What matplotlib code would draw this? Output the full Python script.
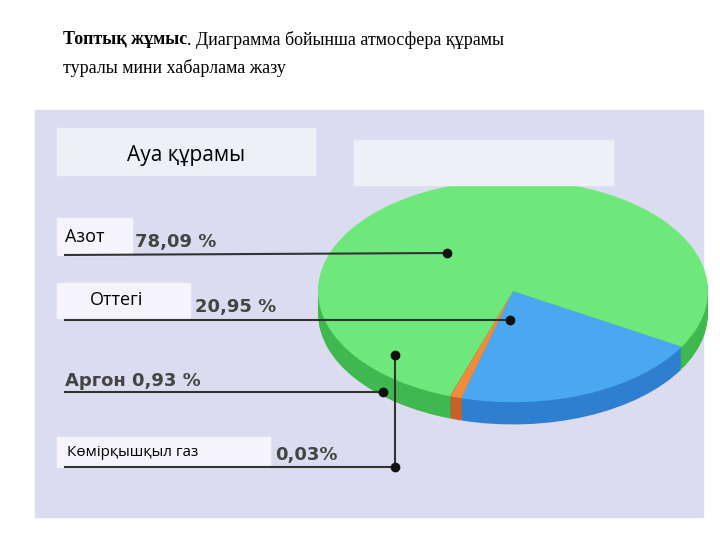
import matplotlib
matplotlib.use("Agg")
import matplotlib.pyplot as plt
from matplotlib.patches import Rectangle

labels = ["Оттегі", "Аргон", "Көмірқышқыл газ", "Азот"]
values = [20.95, 0.93, 0.03, 78.09]
top_colors = ["#4aa8f0", "#f08a3c", "#d84a3a", "#6ee87a"]
side_colors = ["#2f7fd0", "#c8602a", "#a83020", "#3fb84f"]
value_texts = ["78,09 %", "20,95 %", "Аргон 0,93 %", "0,03%"]

fig = plt.figure(figsize=(7.2, 5.4), dpi=100)
fig.patch.set_facecolor("white")
base = fig.add_axes([0, 0, 1, 1])
base.set_xlim(0, 720); base.set_ylim(540, 0); base.axis("off")
base.add_patch(Rectangle((35, 110), 668, 407, color="#dcdcf0"))
base.set_zorder(0)

fam = ["Liberation Serif", "DejaVu Serif"]
t1 = base.text(63, 40, "Топтық жұмыс", fontsize=13, fontweight="bold", family=fam, va="center")
base.annotate(". Диаграмма бойынша атмосфера құрамы", xy=(1, 0.5), xycoords=t1,
              fontsize=13, family=fam, va="center", ha="left")
base.text(63, 68, "туралы мини хабарлама жазу", fontsize=13, family=fam, va="center")

# pie axes (elliptical)
pax = fig.add_axes([318/720, 1-430/540, 390/720, 250/540])
pax.set_zorder(1)
for i in range(10):
    pax.pie(values, colors=side_colors, startangle=-30, counterclock=False,
            center=(0, -0.2 + i*0.02), radius=1, wedgeprops=dict(linewidth=0))
pax.pie(values, colors=top_colors, startangle=-30, counterclock=False, center=(0, 0),
        radius=1, wedgeprops=dict(linewidth=0))
pax.set_xlim(-1.0, 1.0); pax.set_ylim(-1.25, 1.0); pax.set_aspect("auto")
pax.axis("off")

bg = fig.add_axes([0, 0, 1, 1])
bg.set_xlim(0, 720); bg.set_ylim(540, 0); bg.axis("off")
bg.set_zorder(2); bg.patch.set_alpha(0)

boxf = dict(color="#eef0f8", zorder=2)
bg.add_patch(Rectangle((57, 128), 258, 47, **boxf))
bg.add_patch(Rectangle((354, 140), 259, 45, **boxf))
bg.text(186, 156, "Ауа құрамы", fontsize=15, ha="center", va="center", zorder=3, family="Open Sans")
sans = "DejaVu Sans"
items = [((57, 218, 75, 37), "Азот", (65, 237), (135, 242), 255, (447, 253)),
         ((57, 283, 133, 35), "Оттегі", (90, 300), (195, 307), 320, (510, 320)),
         (None, None, (65, 381), 392, (383, 392)),
         ((57, 437, 213, 30), "Көмірқышқыл газ", (67, 452), (275, 455), 467, (395, 467))]
items[2] = (None, None, None, (65, 381), 392, (383, 392))
for (box, name, npos, vpos, ly, pt), vt in zip(items, value_texts):
    if box:
        bg.add_patch(Rectangle(box[:2], box[2], box[3], color="#f4f4fa", zorder=2))
        bg.text(npos[0], npos[1], name, fontsize=13 if len(name) < 8 else 11,
                va="center", zorder=3, family="Open Sans")
    bg.text(vpos[0], vpos[1], vt, fontsize=13, fontweight="bold", color="#444444",
            va="center", zorder=3, family=sans)
    bg.plot([65, pt[0]], [ly, pt[1]], color="#333333", lw=1.5, zorder=3)
    bg.plot(pt[0], pt[1], "o", color="#111111", ms=6, zorder=4)
bg.plot([395, 395], [467, 355], color="#333333", lw=1.5, zorder=3)
bg.plot(395, 355, "o", color="#111111", ms=6, zorder=4)
fig.savefig("out.png", dpi=100)
